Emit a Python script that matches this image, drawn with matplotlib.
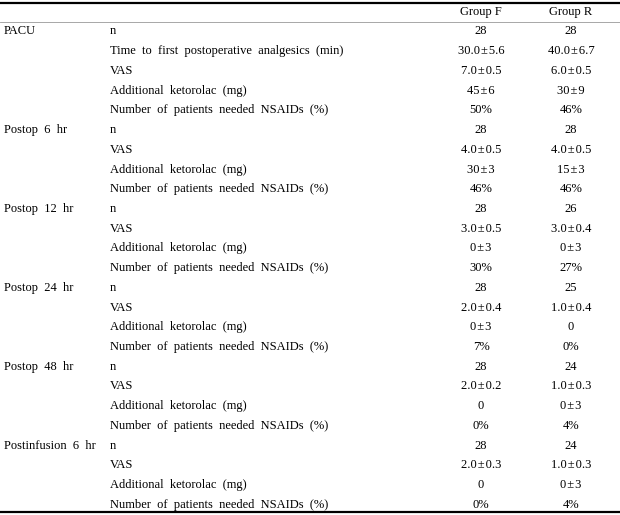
import matplotlib.pyplot as plt

plt.rcParams['font.family'] = ['Liberation Serif', 'DejaVu Serif']

groups = ["Group F", "Group R"]
sections = ["PACU", "Postop 6 hr", "Postop 12 hr", "Postop 24 hr",
            "Postop 48 hr", "Postinfusion 6 hr"]
items_pacu = ["n", "Time to first postoperative analgesics (min)", "VAS",
              "Additional ketorolac (mg)", "Number of patients needed NSAIDs (%)"]
items_other = ["n", "VAS", "Additional ketorolac (mg)",
               "Number of patients needed NSAIDs (%)"]

group_f = [
    ["28", "30.0 ± 5.6", "7.0 ± 0.5", "45 ± 6", "50%"],
    ["28", "4.0 ± 0.5", "30 ± 3", "46%"],
    ["28", "3.0 ± 0.5", "0 ± 3", "30%"],
    ["28", "2.0 ± 0.4", "0 ± 3", "7%"],
    ["28", "2.0 ± 0.2", "0", "0%"],
    ["28", "2.0 ± 0.3", "0", "0%"],
]
group_r = [
    ["28", "40.0 ± 6.7", "6.0 ± 0.5", "30 ± 9", "46%"],
    ["28", "4.0 ± 0.5", "15 ± 3", "46%"],
    ["26", "3.0 ± 0.4", "0 ± 3", "27%"],
    ["25", "1.0 ± 0.4", "0", "0%"],
    ["24", "1.0 ± 0.3", "0 ± 3", "4%"],
    ["24", "1.0 ± 0.3", "0 ± 3", "4%"],
]


def wide(s):
    # the source typesets words with loose spacing
    return s.replace(" ", "  ")


def tight(s):
    # values use very narrow spaces round the ± sign
    return s.replace(" ± ", "\u200a±\u200a")


rows = []
for i, sec in enumerate(sections):
    items = items_pacu if i == 0 else items_other
    for j, item in enumerate(items):
        rows.append((sec if j == 0 else "", item, group_f[i][j], group_r[i][j]))

fig = plt.figure(figsize=(6.2, 5.15), dpi=100)
ax = fig.add_axes([0, 0, 1, 1])
ax.set_xlim(0, 620)
ax.set_ylim(515, 0)
ax.axis('off')

fs = 9
col_x = [4, 110, 481, 571]
y0 = 31.5
dy = 19.72

ax.text(col_x[2], 12, groups[0], ha='center', va='center', fontsize=fs)
ax.text(col_x[3], 12, groups[1], ha='center', va='center', fontsize=fs)

for k, (sec, item, f, r) in enumerate(rows):
    y = y0 + k * dy
    ax.text(col_x[0], y, wide(sec), ha='left', va='center', fontsize=fs)
    ax.text(col_x[1], y, wide(item), ha='left', va='center', fontsize=fs)
    ax.text(col_x[2], y, tight(f), ha='center', va='center', fontsize=fs)
    ax.text(col_x[3], y, tight(r), ha='center', va='center', fontsize=fs)

ax.axhline(2.5, color='black', lw=1.6)
ax.axhline(22.3, color='#999999', lw=0.6)
ax.axhline(512, color='black', lw=1.6)

fig.savefig('out.png', dpi=100)
